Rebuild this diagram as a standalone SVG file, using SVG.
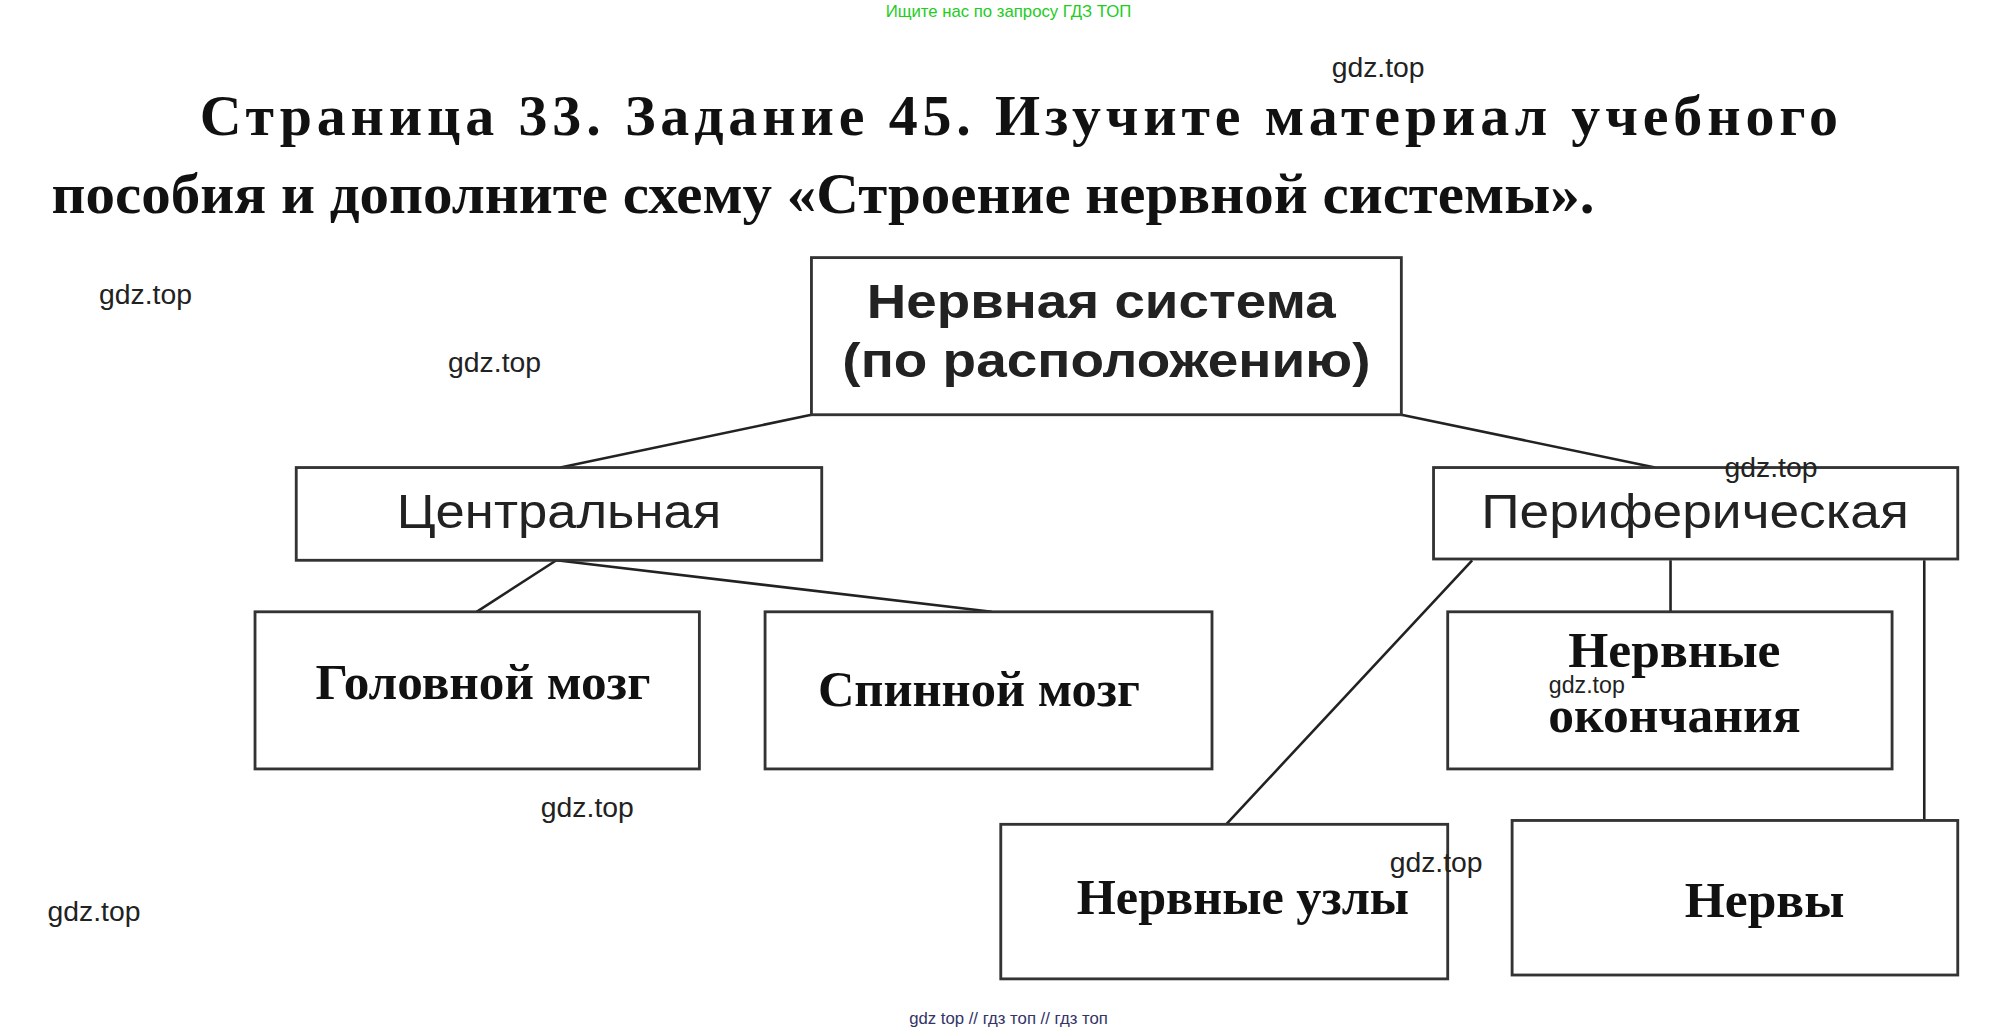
<svg xmlns="http://www.w3.org/2000/svg" width="1999" height="1032" viewBox="0 0 1999 1032">
<style>
.box{fill:#fff;stroke:#333;stroke-width:2.2}
.ln{stroke:#222;stroke-width:2;fill:none}
.hs{font-family:"Liberation Sans",Arial,sans-serif;font-weight:bold;font-size:37px;fill:#222;text-anchor:middle}
.ns{font-family:"Liberation Sans",Arial,sans-serif;font-size:38px;fill:#222;text-anchor:middle}
.sb{font-family:"Liberation Serif","Times New Roman",serif;font-weight:bold;font-size:40px;fill:#111;text-anchor:middle}
.wm{font-family:"Liberation Sans",Arial,sans-serif;font-size:22px;fill:#222;text-anchor:middle}
.ti{font-family:"Liberation Serif","Times New Roman",serif;font-weight:bold;font-size:45px;fill:#111}
</style>
<rect width="1999" height="1032" fill="#fff"/>
<g transform="scale(1.288)">
<text x="783" y="13" style="font-family:'Liberation Sans',Arial,sans-serif;font-size:13px;fill:#2c2;text-anchor:middle">Ищите нас по запросу ГДЗ ТОП</text>
<text class="ti" x="155" y="105" textLength="1272" lengthAdjust="spacing">Страница 33. Задание 45. Изучите материал учебного</text>
<text class="ti" x="40" y="165" textLength="1198" lengthAdjust="spacingAndGlyphs">пособия и дополните схему «Строение нервной системы».</text>
<g id="connectors">
<path class="ln" d="M630 322L435 363M1088 322L1285 363M432 435L370 475M432 435L770 475M1143 435L952 640M1297 435V475M1494 435V637"/>
</g>
<g id="root"><rect class="box" x="630" y="200" width="458" height="122"/><text class="hs" x="855" y="247" textLength="364" lengthAdjust="spacingAndGlyphs">Нервная система</text><text class="hs" x="859" y="293" textLength="410" lengthAdjust="spacingAndGlyphs">(по расположению)</text></g>
<g id="central"><rect class="box" x="230" y="363" width="408" height="72"/><text class="ns" x="434" y="410" textLength="252" lengthAdjust="spacingAndGlyphs">Центральная</text></g>
<g id="peripheral"><rect class="box" x="1113" y="363" width="407" height="71"/><text class="ns" x="1316" y="410" textLength="332" lengthAdjust="spacingAndGlyphs">Периферическая</text></g>
<g id="brain"><rect class="box" x="198" y="475" width="345" height="122"/><text class="sb" x="375" y="543" textLength="260" lengthAdjust="spacingAndGlyphs">Головной мозг</text></g>
<g id="spinal"><rect class="box" x="594" y="475" width="347" height="122"/><text class="sb" x="760" y="548" textLength="250" lengthAdjust="spacingAndGlyphs">Спинной мозг</text></g>
<g id="endings"><rect class="box" x="1124" y="475" width="345" height="122"/><text class="sb" x="1300" y="518">Нервные</text><text class="sb" x="1300" y="568">окончания</text></g>
<g id="ganglia"><rect class="box" x="777" y="640" width="347" height="120"/><text class="sb" x="965" y="710" textLength="258" lengthAdjust="spacingAndGlyphs">Нервные узлы</text></g>
<g id="nerves"><rect class="box" x="1174" y="637" width="346" height="120"/><text class="sb" x="1370" y="712">Нервы</text></g>
<g>
<text class="wm" x="1070" y="60">gdz.top</text>
<text class="wm" x="113" y="236">gdz.top</text>
<text class="wm" x="384" y="289">gdz.top</text>
<text class="wm" x="1375" y="370">gdz.top</text>
<text class="wm" x="1232" y="538" style="font-size:18px">gdz.top</text>
<text class="wm" x="456" y="634">gdz.top</text>
<text class="wm" x="1115" y="677">gdz.top</text>
<text class="wm" x="73" y="715">gdz.top</text>
</g>
<text x="783" y="795" style="font-family:'Liberation Sans',Arial,sans-serif;font-size:13px;fill:#336;text-anchor:middle">gdz top  //  гдз топ  //  гдз топ</text>
</g>
</svg>
